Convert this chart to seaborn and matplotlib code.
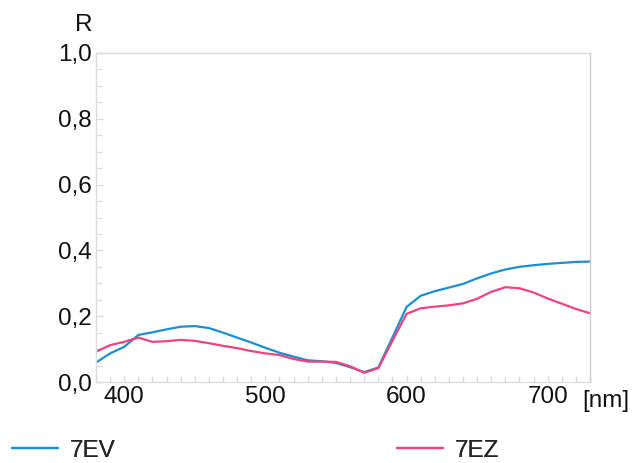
import numpy as np
import pandas as pd
import matplotlib
matplotlib.use("Agg")
import matplotlib.pyplot as plt
import seaborn as sns
from matplotlib.ticker import MultipleLocator, FuncFormatter

wavelength = [380, 390, 400, 410, 420, 430, 440, 450, 460, 470, 480, 490, 500, 510,
              520, 530, 540, 550, 560, 570, 580, 590, 600, 610, 620, 630, 640, 650,
              660, 670, 680, 690, 700, 710, 720, 730]
r_7ev = [0.059, 0.087, 0.107, 0.143, 0.151, 0.160, 0.168, 0.170, 0.164, 0.150, 0.135,
         0.120, 0.104, 0.089, 0.077, 0.066, 0.063, 0.058, 0.045, 0.030, 0.044, 0.135,
         0.228, 0.262, 0.276, 0.287, 0.298, 0.315, 0.330, 0.342, 0.350, 0.355, 0.359,
         0.362, 0.365, 0.366]
r_7ez = [0.092, 0.112, 0.122, 0.135, 0.122, 0.124, 0.128, 0.125, 0.118, 0.110, 0.103,
         0.094, 0.087, 0.082, 0.070, 0.062, 0.062, 0.061, 0.048, 0.028, 0.042, 0.125,
         0.207, 0.224, 0.229, 0.233, 0.239, 0.253, 0.274, 0.288, 0.285, 0.272, 0.254,
         0.238, 0.222, 0.209]
series_names = ["7EV", "7EZ"]
colors = ["#1b8fd2", "#f0437c"]

df = pd.DataFrame({
    "wavelength": wavelength * 2,
    "R": r_7ev + r_7ez,
    "series": [series_names[0]] * len(wavelength) + [series_names[1]] * len(wavelength),
})

sns.set_style("white")
plt.rcParams["font.family"] = ["Liberation Sans", "DejaVu Sans"]

FS = 17.5
fig = plt.figure(figsize=(6.33, 4.63), dpi=100)
ax = fig.add_axes([96 / 633, 1 - 382 / 463, (590 - 96) / 633, (382 - 53) / 463])

sns.lineplot(data=df, x="wavelength", y="R", hue="series", palette=colors,
             linewidth=1.6, ax=ax, legend=True)

ax.set_xlim(380, 730)
ax.set_ylim(0, 1.0)
ax.xaxis.set_major_locator(MultipleLocator(100))
ax.xaxis.set_minor_locator(MultipleLocator(10))
ax.yaxis.set_major_locator(MultipleLocator(0.2))
ax.yaxis.set_minor_locator(MultipleLocator(0.05))
ax.yaxis.set_major_formatter(FuncFormatter(lambda v, p: f"{v:.1f}".replace(".", ",")))
ax.xaxis.set_major_formatter(FuncFormatter(lambda v, p: f"{v:.0f}"))

spine_c = "#dddddd"
for s in ax.spines.values():
    s.set_color(spine_c)
    s.set_linewidth(1.0)
ax.spines["right"].set_color("#cccccc")

ax.tick_params(axis="both", which="both", direction="in", color=spine_c,
               labelsize=FS, labelcolor="#111111")
ax.tick_params(axis="both", which="major", length=5, width=1.0, pad=3)
ax.tick_params(axis="both", which="minor", length=4, width=1.0)
ax.tick_params(axis="y", which="both", left=True, right=False)
ax.tick_params(axis="x", which="both", bottom=True, top=False)
ax.set_xlabel("")
ax.set_ylabel("")

fig.text(84 / 633, 1 - 25 / 463, "R", fontsize=FS, ha="center", va="center", color="#111111")
fig.text(606 / 633, 1 - 401 / 463, "[nm]", fontsize=FS, ha="center", va="center", color="#111111")

handles, labels = ax.get_legend_handles_labels()
ax.get_legend().remove()
leg_x = [12, 397]
for h, l, x in zip(handles, labels, leg_x):
    lg = fig.legend([h], [l], loc="center left", bbox_to_anchor=(x / 633, 1 - 451 / 463),
                    frameon=False, fontsize=FS, handlelength=1.9, handletextpad=0.47,
                    borderpad=0, borderaxespad=0)
    fig.add_artist(lg)

fig.savefig("out.png", dpi=100)
